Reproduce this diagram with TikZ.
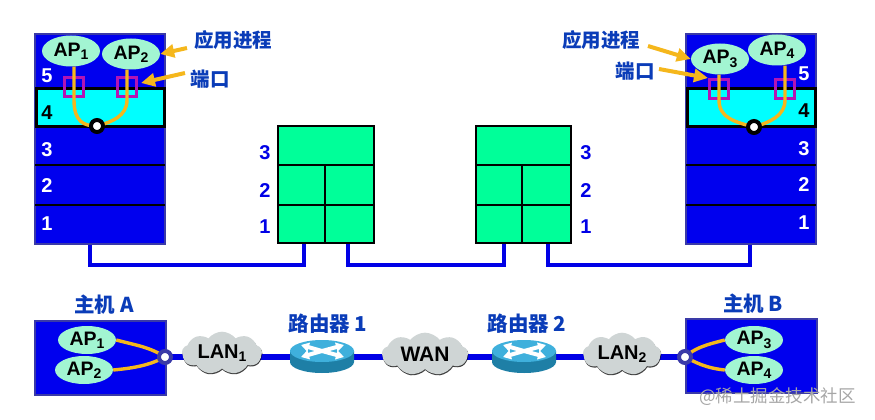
\documentclass[tikz,border=0pt]{standalone}
\usepackage{fontspec}
\setmainfont{Liberation Sans}
\newfontfamily\cjk{Noto Sans CJK SC}
\usetikzlibrary{shapes.geometric,shapes.symbols,arrows.meta,shadows}
\definecolor{stackblue}{HTML}{0000EE}
\definecolor{stackedge}{HTML}{3A3AA8}
\definecolor{layercyan}{HTML}{00FFFF}
\definecolor{mint}{HTML}{A2F5D2}
\definecolor{relay}{HTML}{00FF99}
\definecolor{amber}{HTML}{F5B71C}
\definecolor{port}{HTML}{B414B4}
\definecolor{linkblue}{HTML}{0000E6}
\definecolor{labelblue}{HTML}{0A3CB8}
\definecolor{cloudgray}{HTML}{CFD5D5}
\definecolor{routerteal}{HTML}{1E7FA6}
\definecolor{routertop}{HTML}{3FB0DC}
\newcommand{\apname}[1]{AP\raisebox{-0.32ex}{\fontsize{14}{14}\selectfont #1}}
\tikzset{
  x=1pt,y=-1pt,
  layer/.style={draw=stackedge,fill=stackblue,line width=2pt},
  layerfour/.style={draw=black,fill=layercyan,line width=3pt},
  divider/.style={draw=black,line width=1.6pt},
  ap/.style={ellipse,fill=mint,inner sep=0pt,minimum width=58pt,minimum height=31pt,font=\fontsize{19.5}{19.5}\selectfont\bfseries},
  apsmall/.style={ap,minimum height=28pt},
  pbox/.style={draw=port,line width=3pt,minimum size=19pt,inner sep=0pt},
  proc/.style={draw=amber,line width=3.4pt},
  sock/.style={circle,draw=black,fill=white,line width=4pt,minimum size=12pt,inner sep=0pt},
  hostsock/.style={circle,draw=stackedge,fill=white,line width=4pt,minimum size=12pt,inner sep=0pt},
  callout/.style={draw=amber,line width=4pt,-{Triangle[length=14pt,width=13pt]}},
  cjklabel/.style={text=labelblue,inner sep=0pt,font=\cjk\fontsize{19.5}{19.5}\selectfont\bfseries},
  cjkbig/.style={cjklabel,font=\cjk\fontsize{20.5}{20.5}\selectfont\bfseries},
  numwhite/.style={text=white,inner sep=0pt,font=\fontsize{20}{20}\selectfont\bfseries},
  numblue/.style={text=linkblue,inner sep=0pt,font=\fontsize{20}{20}\selectfont\bfseries},
  cell/.style={draw=black,fill=relay,line width=2.2pt},
  celldiv/.style={draw=black,line width=1.8pt},
  link/.style={draw=linkblue,line width=4pt,line join=miter},
  thick link/.style={draw=linkblue,line width=6pt},
  lan/.style={cloud,cloud puffs=9,cloud puff arc=105,aspect=2.1,fill=cloudgray,inner sep=0pt,
    drop shadow={shadow xshift=0.4pt,shadow yshift=-1.2pt,fill=black,opacity=.75},
    font=\fontsize{20}{20}\selectfont\bfseries},
  router arrow/.style={white,line width=4pt,-{Triangle[length=8pt,width=9pt]}},
  router/.pic={
    \fill[routerteal] (-32,-6) -- (-32,5) arc[start angle=180,end angle=0,x radius=32,y radius=11] -- (32,-6) -- cycle;
    \fill[routertop] (0,-6) ellipse[x radius=32,y radius=11];
    \draw[router arrow] (0,-6) -- (-21,-12);
    \draw[router arrow] (0,-6) -- (22,0);
    \draw[router arrow] (0,-6) -- (-21,0);
    \draw[router arrow] (0,-6) -- (22,-12);
  }
}
\begin{document}
\begin{tikzpicture}
\useasboundingbox (0,0) rectangle (875,420);

% ---------- left stack
\node[layer,minimum width=130pt,minimum height=210pt,inner sep=0pt] (leftstack) at (100,139) {};
\draw[divider] (35,165) -- (165,165) (35,205) -- (165,205);
\node[layerfour,minimum width=128pt,minimum height=38pt,inner sep=0pt] (leftfour) at (100,107) {};
\node[ap] (ap1) at (71,51) {\apname{1}};
\node[ap] (ap2) at (131,54) {\apname{2}};
\node[pbox] (p1) at (74,87) {};
\node[pbox] (p2) at (127,87) {};
\coordinate (s1) at (97,126);
\draw[proc] (ap1.south -| p1) -- (74,100) .. controls (74,122) and (84,126) .. (s1);
\draw[proc] (ap2.south -| p2) -- (127,100) .. controls (127,116) and (112,122) .. (s1);
\node[sock] (sockl) at (s1) {};
\node[numwhite] at (47,76) {5};
\node[numwhite,text=black] at (47,113) {4};
\node[numwhite] at (47,150) {3};
\node[numwhite] at (47,186) {2};
\node[numwhite] at (47,224) {1};

\node[cjklabel] (procl) at (233,40) {应用进程};
\node[cjklabel] (portl) at (210,79) {端口};
\coordinate (procltail) at (187,48);
\coordinate (portltail) at (185,73);
\draw[callout] (procltail) -- (ap2.east);
\draw[callout] (portltail) -- ([shift={(3,-4)}]p2.east);

% ---------- right stack
\node[layer,minimum width=130pt,minimum height=210pt,inner sep=0pt] (rightstack) at (751,139) {};
\draw[divider] (686,165) -- (816,165) (686,205) -- (816,205);
\node[layerfour,minimum width=128pt,minimum height=38pt,inner sep=0pt] (rightfour) at (751,107) {};
\node[ap] (ap4) at (777,50) {\apname{4}};
\node[ap] (ap3) at (720,59) {\apname{3}};
\node[pbox] (p3) at (719,89) {};
\node[pbox] (p4) at (785,89) {};
\coordinate (s2) at (754,127);
\draw[proc] (ap3.south -| p3) -- (719,100) .. controls (719,118) and (735,122) .. (s2);
\draw[proc] (ap4.south -| p4) -- (785,100) .. controls (785,116) and (770,122) .. (s2);
\node[sock] (sockr) at (s2) {};
\node[numwhite] at (804,74) {5};
\node[numwhite,text=black] at (804,111) {4};
\node[numwhite] at (804,149) {3};
\node[numwhite] at (804,185) {2};
\node[numwhite] at (804,223) {1};

\node[cjklabel] (procr) at (601,40) {应用进程};
\node[cjklabel] (portr) at (635,71) {端口};
\coordinate (procrtail) at (648,46);
\coordinate (portrtail) at (659,69);
\draw[callout] (procrtail) -- (ap3.west);
\draw[callout] (portrtail) -- (p3.north west);

% ---------- relays
\foreach \nm/\xa/\xb/\xc in {ra/278/325/374,rb/476/522/571}{
  \draw[cell] (\xa,126) rectangle (\xc,243);
  \draw[celldiv] (\xa,165) -- (\xc,165) (\xa,205) -- (\xc,205) (\xb,165) -- (\xb,243);
}
\coordinate (ra1) at (304,244);
\coordinate (ra2) at (348,244);
\coordinate (rb1) at (504,244);
\coordinate (rb2) at (548,244);
\coordinate (lb) at (90,245);
\coordinate (rbm) at (750,245);
\foreach \yy/\t in {153/3,191/2,227/1}{
  \node[numblue] at (265,\yy) {\t};
  \node[numblue] at (586,\yy) {\t};
}
\draw[link] (lb) -- (90,265) -- (304,265) -- (ra1);
\draw[link] (ra2) -- (348,265) -- (504,265) -- (rb1);
\draw[link] (rb2) -- (548,265) -- (750,265) -- (rbm);

% ---------- bottom row
\node[layer,minimum width=131pt,minimum height=74pt,inner sep=0pt] (hosta) at (100,358) {};
\node[layer,minimum width=131pt,minimum height=74pt,inner sep=0pt] (hostb) at (751,356) {};
\coordinate (portA) at (165,357);
\coordinate (portB) at (685,357);
\coordinate (r1) at (322,357);
\coordinate (r2) at (524,357);
\draw[thick link] (portA) -- (portB);

\node[lan,minimum width=80pt,minimum height=38pt] (lan1) at (222,353) {LAN\raisebox{-0.32ex}{\fontsize{14}{14}\selectfont 1}};
\node[lan,minimum width=86pt,minimum height=40pt,font=\fontsize{21}{21}\selectfont\bfseries] (wan) at (425,354) {WAN};
\node[lan,minimum width=78pt,minimum height=40pt] (lan2) at (622,354) {LAN\raisebox{-0.32ex}{\fontsize{14}{14}\selectfont 2}};
\pic at (r1) {router};
\pic at (r2) {router};

\node[apsmall] (hap1) at (87,340) {\apname{1}};
\node[apsmall] (hap2) at (84,370) {\apname{2}};
\node[apsmall] (hap3) at (754,340) {\apname{3}};
\node[apsmall] (hap4) at (754,370) {\apname{4}};
\draw[proc] (hap1.east) .. controls (135,345) and (150,347) .. (portA);
\draw[proc] (hap2.east) .. controls (135,368) and (150,365) .. (portA);
\draw[proc] (hap3.west) .. controls (705,345) and (695,348) .. (portB);
\draw[proc] (hap4.west) .. controls (705,368) and (695,362) .. (portB);
\node[hostsock] (ha) at (portA) {};
\node[hostsock] (hb) at (portB) {};

\node[cjkbig] at (104,305) {主机 A};
\node[cjkbig] at (753,304) {主机 B};
\node[cjkbig] at (328,324) {路由器 1};
\node[cjkbig] at (527,324) {路由器 2};

\node[text=black!35,inner sep=0pt,anchor=west,font=\cjk\fontsize{17.5}{17.5}\selectfont] at (699,397) {@稀土掘金技术社区};
\end{tikzpicture}
\end{document}
